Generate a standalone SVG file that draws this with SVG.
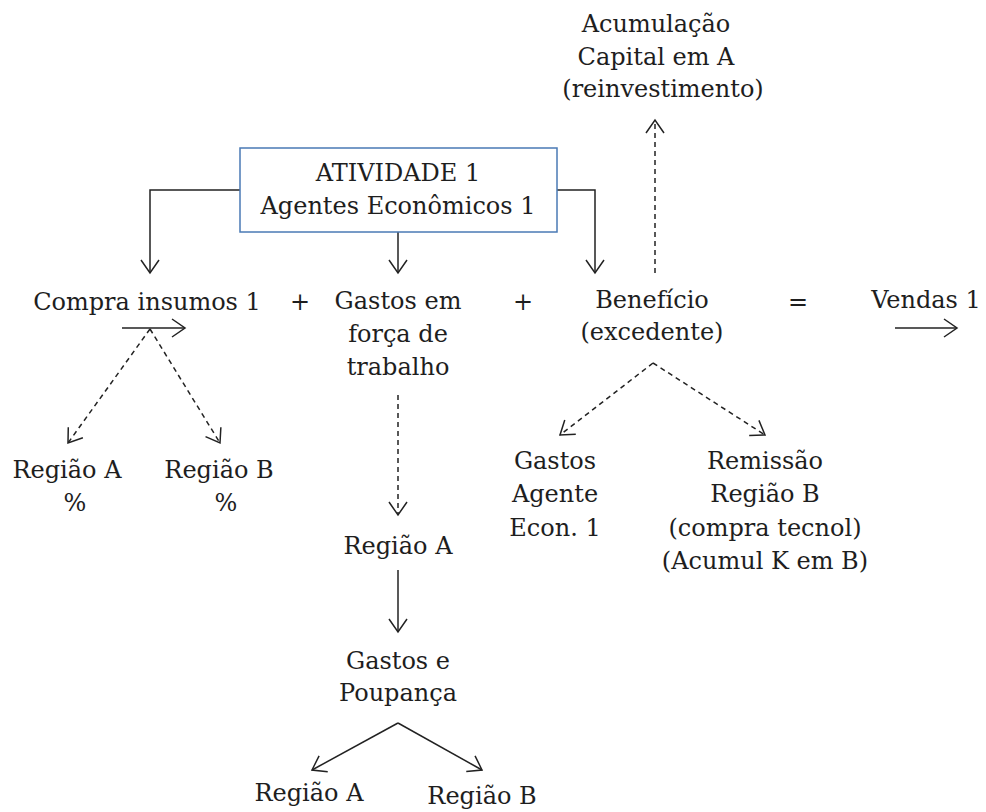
<svg xmlns="http://www.w3.org/2000/svg" width="986" height="812" viewBox="0 0 986 812">
<style>
text{font-family:"DejaVu Serif","Liberation Serif",serif;font-size:24px;fill:#1e1e1e;text-anchor:middle}
.ln{fill:none;stroke:#222;stroke-width:1.5}
.ds{fill:none;stroke:#222;stroke-width:1.5;stroke-dasharray:5 4}
</style>
<defs>
<marker id="ah" markerUnits="userSpaceOnUse" markerWidth="16" markerHeight="22" viewBox="0 0 16 22" refX="14" refY="11" orient="auto">
<path d="M1,2 L14,11 L1,20" fill="none" stroke="#222" stroke-width="1.5"/>
</marker>
</defs>
<rect width="986" height="812" fill="#fff"/>
<g id="connectors">
<path class="ln" d="M240,190 H150 V273" marker-end="url(#ah)"/>
<path class="ln" d="M398,232 V273" marker-end="url(#ah)"/>
<path class="ln" d="M557,190 H595 V273" marker-end="url(#ah)"/>
<path class="ds" d="M655,273 V120" marker-end="url(#ah)"/>
<path class="ln" d="M122,328 H185" marker-end="url(#ah)"/>
<path class="ds" d="M150,329 L68,443" marker-end="url(#ah)"/>
<path class="ds" d="M150,329 L220,443" marker-end="url(#ah)"/>
<path class="ds" d="M398,395 V515" marker-end="url(#ah)"/>
<path class="ln" d="M398,570 V632" marker-end="url(#ah)"/>
<path class="ln" d="M398,723 L312,770" marker-end="url(#ah)"/>
<path class="ln" d="M398,723 L482,770" marker-end="url(#ah)"/>
<path class="ds" d="M653,363 L560,435" marker-end="url(#ah)"/>
<path class="ds" d="M653,363 L765,435" marker-end="url(#ah)"/>
<path class="ln" d="M895,328 H957" marker-end="url(#ah)"/>
</g>
<g id="atividade">
<rect x="240" y="148" width="317" height="84" fill="#fff" stroke="#4a7ab5" stroke-width="1.5"/>
<text x="398" y="181">ATIVIDADE 1</text>
<text x="398" y="214">Agentes Econômicos 1</text>
</g>
<g id="acumulacao">
<text x="656" y="32">Acumulação</text>
<text x="656" y="65">Capital em A</text>
<text x="663" y="97">(reinvestimento)</text>
</g>
<g id="compra"><text x="147" y="310">Compra insumos 1</text></g>
<g id="op1"><text x="300" y="310">+</text></g>
<g id="gastos-ft">
<text x="398" y="309">Gastos em</text>
<text x="398" y="342">força de</text>
<text x="398" y="375">trabalho</text>
</g>
<g id="op2"><text x="523" y="310">+</text></g>
<g id="beneficio">
<text x="652" y="308">Benefício</text>
<text x="652" y="340">(excedente)</text>
</g>
<g id="op3"><text x="798" y="310">=</text></g>
<g id="vendas"><text x="926" y="308">Vendas 1</text></g>
<g id="regA1">
<text x="67" y="478">Região A</text>
<text x="75" y="511">%</text>
</g>
<g id="regB1">
<text x="219" y="478">Região B</text>
<text x="226" y="511">%</text>
</g>
<g id="regA2"><text x="398" y="554">Região A</text></g>
<g id="gastos-poup">
<text x="398" y="669">Gastos e</text>
<text x="398" y="701">Poupança</text>
</g>
<g id="regA3"><text x="309" y="801">Região A</text></g>
<g id="regB3"><text x="482" y="804">Região B</text></g>
<g id="gastos-agente">
<text x="555" y="469">Gastos</text>
<text x="555" y="502">Agente</text>
<text x="555" y="536">Econ. 1</text>
</g>
<g id="remissao">
<text x="765" y="469">Remissão</text>
<text x="765" y="502">Região B</text>
<text x="765" y="536">(compra tecnol)</text>
<text x="765" y="569">(Acumul K em B)</text>
</g>
</svg>
